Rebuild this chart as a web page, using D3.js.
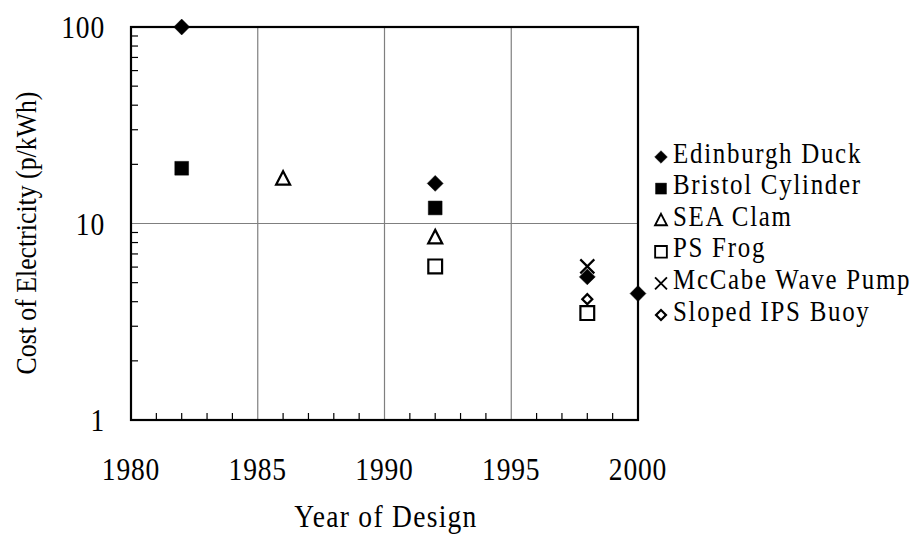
<!DOCTYPE html>
<html>
<head>
<meta charset="utf-8">
<script src="https://cdn.jsdelivr.net/npm/d3@7"></script>
<style>
  html, body { margin: 0; padding: 0; background: #fff; }
  svg text { font-family: "Liberation Serif", "Times New Roman", serif; fill: #000; }
</style>
</head>
<body>
<svg id="chart" width="920" height="537"></svg>
<script>
// Wave energy devices: cost of electricity by design year
const seriesNames = ["Edinburgh Duck", "Bristol Cylinder", "SEA Clam", "PS Frog", "McCabe Wave Pump", "Sloped IPS Buoy"];
const duckYears     = [1982, 1992, 1998, 2000];
const duckCost      = [100, 16, 5.35, 4.4];
const cylinderYears = [1982, 1992];
const cylinderCost  = [19.1, 12];
const clamYears     = [1986, 1992];
const clamCost      = [16.9, 8.5];
const frogYears     = [1992, 1998];
const frogCost      = [6.05, 3.5];
const pumpYears     = [1998];
const pumpCost      = [6.05];
const buoyYears     = [1998];
const buoyCost      = [4.12];
const xTicks = [1980, 1985, 1990, 1995, 2000];
const yTicks = [1, 10, 100];

const series = [
  { name: seriesNames[0], years: duckYears,     cost: duckCost,     shape: "diamond", fill: true },
  { name: seriesNames[1], years: cylinderYears, cost: cylinderCost, shape: "square",  fill: true },
  { name: seriesNames[2], years: clamYears,     cost: clamCost,     shape: "triangle", fill: false },
  { name: seriesNames[3], years: frogYears,     cost: frogCost,     shape: "square",  fill: false },
  { name: seriesNames[4], years: pumpYears,     cost: pumpCost,     shape: "times",   fill: false },
  { name: seriesNames[5], years: buoyYears,     cost: buoyCost,     shape: "diamondSmall", fill: false }
];

const svg = d3.select("#chart");
const plotLeft = 131, plotRight = 638, plotTop = 27, plotBottom = 420;

const x = d3.scaleLinear().domain([1980, 2000]).range([plotLeft, plotRight]);
const y = d3.scaleLog().domain([1, 100]).range([plotBottom, plotTop]);

// Condensed serif text: narrow the glyphs horizontally around the anchor
function condensedText(g, tx, ty, str, size, anchor, rotate, spacing) {
  const grp = g.append("g").attr("transform",
    `translate(${tx},${ty})` + (rotate ? ` rotate(${rotate})` : "") + " scale(0.86,1)");
  grp.append("text")
    .attr("text-anchor", anchor)
    .attr("dominant-baseline", "central")
    .attr("font-size", size)
    .attr("letter-spacing", spacing || 0)
    .text(str);
  return grp;
}

// Grid lines at major ticks
const grid = svg.append("g");
grid.selectAll("line.vx").data(xTicks.slice(1, -1)).join("line")
  .attr("x1", d => x(d)).attr("x2", d => x(d))
  .attr("y1", plotTop).attr("y2", plotBottom)
  .attr("stroke", "#7f7f7f").attr("stroke-width", 1.2);
grid.selectAll("line.hy").data(yTicks.slice(1, -1)).join("line")
  .attr("x1", plotLeft).attr("x2", plotRight)
  .attr("y1", d => y(d)).attr("y2", d => y(d))
  .attr("stroke", "#7f7f7f").attr("stroke-width", 1.2);

// Minor ticks: every year along the bottom, 2..9 per decade along the left
const minorYears = d3.range(1981, 2000).filter(d => d % 5 !== 0);
svg.append("g").selectAll("line").data(minorYears).join("line")
  .attr("x1", d => x(d)).attr("x2", d => x(d))
  .attr("y1", plotBottom).attr("y2", plotBottom - 7)
  .attr("stroke", "#000").attr("stroke-width", 1.2);

const minorCosts = [];
[1, 10].forEach(dec => { for (let k = 2; k <= 9; k++) minorCosts.push(dec * k); });
svg.append("g").selectAll("line").data(minorCosts).join("line")
  .attr("x1", plotLeft).attr("x2", plotLeft + 7)
  .attr("y1", d => y(d)).attr("y2", d => y(d))
  .attr("stroke", "#000").attr("stroke-width", 1.2);

// Plot frame
svg.append("rect")
  .attr("x", plotLeft).attr("y", plotTop)
  .attr("width", plotRight - plotLeft).attr("height", plotBottom - plotTop)
  .attr("fill", "none").attr("stroke", "#000").attr("stroke-width", 2.2);

// Tick labels
xTicks.forEach(t => condensedText(svg, x(t), 469, String(t), 32, "middle", 0, 1));
yTicks.forEach(t => condensedText(svg, 105, y(t), String(t), 32, "end", 0, 1));

// Axis titles
condensedText(svg, 386, 516, "Year of Design", 32, "middle", 0, 1.5);
condensedText(svg, 26, 233, "Cost of Electricity (p/kWh)", 30, "middle", -90, 0);

// Marker shapes
function markerPath(shape) {
  switch (shape) {
    case "diamond":      return d3.symbol(d3.symbolSquare, 126)();
    case "square":       return d3.symbol(d3.symbolSquare, 190)();
    case "triangle":     return "M0,-7.5L7,6L-7,6Z";
    case "times":        return "M-7,-7L7,7M7,-7L-7,7";
    case "diamondSmall": return d3.symbol(d3.symbolSquare, 50)();
  }
}
function drawMarker(sel, s) {
  sel.attr("d", markerPath(s.shape))
    .attr("fill", s.fill ? "#000" : "none")
    .attr("stroke", "#000")
    .attr("stroke-width", s.fill ? 0.5 : 2.2);
}
function rot(s) { return (s.shape === "diamond" || s.shape === "diamondSmall") ? " rotate(45)" : ""; }

const plot = svg.append("g");
series.forEach(s => {
  const pts = s.years.map((yr, i) => ({ yr, c: s.cost[i] }));
  plot.selectAll(null).data(pts).join("path")
    .attr("transform", d => `translate(${x(d.yr)},${y(d.c)})` + rot(s))
    .call(sel => drawMarker(sel, s));
});

// Legend
const legend = svg.append("g");
series.forEach((s, i) => {
  const cy = 153 + i * 31.6;
  const shrink = s.shape === "diamondSmall" ? "" : (s.fill ? " scale(0.8)" : " scale(0.85)");
  legend.append("path")
    .attr("transform", `translate(661,${cy + 4})` + rot(s) + shrink)
    .call(sel => drawMarker(sel, s));
  condensedText(legend, 673, cy, s.name, 29, "start", 0, 2);
});
</script>
</body>
</html>
